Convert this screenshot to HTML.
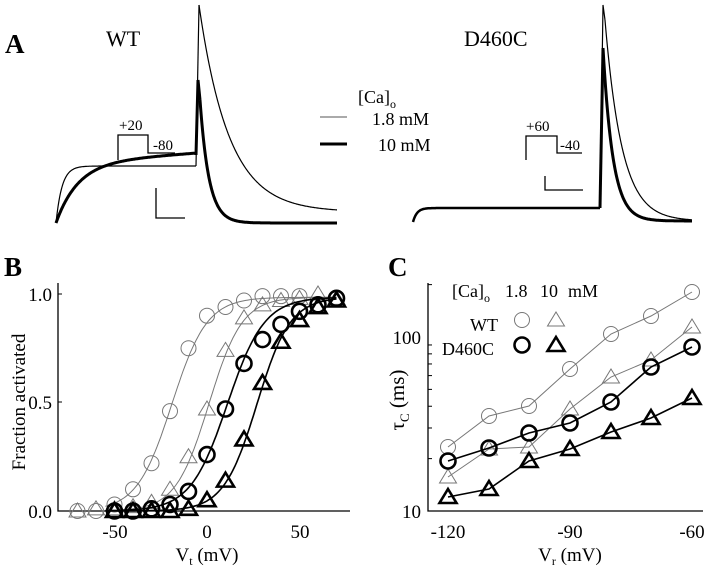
<!DOCTYPE html>
<html><head><meta charset="utf-8"><style>
body{margin:0;background:#fff}
svg{display:block;font-family:"Liberation Serif",serif}
</style></head><body>
<svg id="s" width="720" height="574" viewBox="0 0 720 574" xmlns="http://www.w3.org/2000/svg">
<text x="5" y="53" font-size="27" font-weight="bold">A</text>
<text x="106" y="46" font-size="22">WT</text>
<text x="464" y="46" font-size="22">D460C</text>
<text x="358" y="103" font-size="18">[Ca]<tspan font-size="12" dy="5">o</tspan></text>
<text x="372" y="125" font-size="18">1.8 mM</text>
<text x="378" y="151" font-size="18">10 mM</text>
<line x1="320" y1="117" x2="347" y2="117" stroke="#555" stroke-width="1"/>
<line x1="320" y1="144" x2="347" y2="144" stroke="#000" stroke-width="3"/>
<path d="M118,160V135H148V153H175" fill="none" stroke="#000" stroke-width="1.3"/>
<text x="119" y="130" font-size="15">+20</text>
<text x="153" y="150" font-size="15">-80</text>
<path d="M156,188V218H185" fill="none" stroke="#000" stroke-width="1.3"/>
<path d="M526,160V136H557V153H582" fill="none" stroke="#000" stroke-width="1.3"/>
<text x="526" y="131" font-size="15">+60</text>
<text x="560" y="150" font-size="15">-40</text>
<path d="M545,176V190H583" fill="none" stroke="#000" stroke-width="1.3"/>
<g id="traces" fill="none" stroke="#000"></g>
<text x="4" y="276" font-size="27" font-weight="bold">B</text>
<path d="M58,283V511H350" fill="none" stroke="#000" stroke-width="1.3"/>
<g font-size="19" text-anchor="end">
<text x="52" y="301">1.0</text><text x="52" y="409">0.5</text><text x="52" y="518">0.0</text></g>
<g stroke="#000"><line x1="58" y1="294" x2="62" y2="294"/><line x1="58" y1="402" x2="62" y2="402"/></g>
<g font-size="19" text-anchor="middle">
<text x="115" y="538">-50</text><text x="207" y="538">0</text><text x="300" y="538">50</text>
<text x="207" y="561">V<tspan font-size="12" dy="4">t</tspan><tspan dy="-4"> (mV)</tspan></text></g>
<text transform="translate(25,402) rotate(-90)" font-size="19" text-anchor="middle">Fraction activated</text>
<g id="pb"></g>
<text x="388" y="276" font-size="27" font-weight="bold">C</text>
<path d="M428,283V511H703" fill="none" stroke="#000" stroke-width="1.3"/>
<g font-size="19" text-anchor="end">
<text x="421" y="344">100</text><text x="421" y="518">10</text></g>
<g font-size="19" text-anchor="middle">
<text x="448" y="538">-120</text><text x="570" y="538">-90</text><text x="692" y="538">-60</text>
<text x="570" y="561">V<tspan font-size="12" dy="4">r</tspan><tspan dy="-4"> (mV)</tspan></text></g>
<text transform="translate(404,400) rotate(-90)" font-size="21" text-anchor="middle">τ<tspan font-size="13" dy="5">C</tspan><tspan dy="-5"> (ms)</tspan></text>
<g id="tk" stroke="#000"></g>
<text x="452" y="297" font-size="18">[Ca]<tspan font-size="12" dy="5">o</tspan><tspan dy="-5" x="505">1.8</tspan><tspan x="540">10</tspan><tspan x="568">mM</tspan></text>
<text x="470" y="331" font-size="18">WT</text>
<text x="442" y="355" font-size="18">D460C</text>
<g id="pc"></g>
</svg>
<script>
var NS="http://www.w3.org/2000/svg";
function el(p,t,a){var e=document.createElementNS(NS,t);for(var k in a)e.setAttribute(k,a[k]);document.getElementById(p).appendChild(e);return e;}
function circ(p,x,y,c,w){el(p,"circle",{cx:x,cy:y,r:7.5,fill:"none",stroke:c,"stroke-width":w});}
function tri(p,x,y,c,w){el(p,"path",{d:"M"+x+","+(y-8)+"L"+(x+8.5)+","+(y+6)+"L"+(x-8.5)+","+(y+6)+"Z",fill:"none",stroke:c,"stroke-width":w});}
function pl(f,a,b,c,w){var d="";for(var x=a;x<=b;x+=0.5){d+=(d?"L":"M")+x+","+f(x).toFixed(1);}el("traces","path",{d:d,stroke:c,"stroke-width":w});}
pl(function(x){return 223-57*(1-Math.exp(-(x-56)/6))},56,196,"#000",1.2);
el("traces","path",{d:"M196,166L199,5",stroke:"#000","stroke-width":1.2});
pl(function(x){return 212-207*Math.exp(-(x-199)/30)},199,337,"#000",1.2);
pl(function(x){var t=x-56;return 223-60*(1-Math.exp(-t/22))-10*(t/140)},56,196,"#000",3);
el("traces","path",{d:"M196,155L198,80L200,100",stroke:"#000","stroke-width":3});
pl(function(x){return 223-(223-100)*Math.exp(-(x-200)/9)},200,337,"#000",3);
pl(function(x){var t=x-413;return 222-14*(1-Math.exp(-t/4))},413,600,"#000",2.5);
el("traces","path",{d:"M600,208L603,5L605,20",stroke:"#000","stroke-width":1.2});
pl(function(x){return 221-(221-20)*Math.exp(-(x-605)/17)},605,692,"#000",1.2);
el("traces","path",{d:"M600,208L603,48",stroke:"#000","stroke-width":3});
pl(function(x){return 221-(221-48)*Math.exp(-(x-603)/10)},603,692,"#000",3);
function bx(v){return 207+1.85*v}function by(f){return 511-217*f}
var sets=[[-19,9.5,"#777",1,"c",-70,[0,0,.03,.1,.22,.46,.75,.9,.94,.97,.99,.99,.99]],
[1,9,"#777",1,"t",-70,[0,.01,.01,.02,.04,.1,.25,.47,.74,.89,.95,.97,.98,1.0,.98]],
[11,10,"#000",2.6,"c",-50,[0,0,.01,.03,.09,.26,.47,.68,.79,.86,.92,.95,.98]],
[27,9,"#000",2.6,"t",-50,[0,0,0,0,.01,.05,.14,.33,.59,.78,.88,.94,.97]]];
sets.forEach(function(s){var d="";for(var v=-55;v<=70;v+=1){var f=0.985/(1+Math.exp(-(v-s[0])/s[1]));d+=(d?"L":"M")+bx(v).toFixed(1)+","+by(f).toFixed(1);}
el("pb","path",{d:d,fill:"none",stroke:s[2],"stroke-width":s[3]>2?1.6:1});
s[6].forEach(function(f,i){var v=s[5]+10*i;if(v>70)return;
if(s[4]=="c")circ("pb",bx(v),by(f),s[2],s[3]);else tri("pb",bx(v),by(f),s[2],s[3]);});});
[20,30,40,50,60,70,80,90,200].forEach(function(v){var y=511-174*Math.log10(v/10);el("tk","line",{x1:428,y1:y,x2:432,y2:y});});
var xs=[448,489,529,570,611,651,692];
var C=[[447,416,406,369,334,316,292,"#777",1,"c"],[477,449,447,409,377,360,327,"#777",1,"t"],[461,448,433,423,402,367,347,"#000",2.6,"c"],[497,489,461,449,432,418,398,"#000",2.6,"t"]];
C.forEach(function(s){var d="";for(var i=0;i<7;i++)d+=(i?"L":"M")+xs[i]+","+s[i];
el("pc","path",{d:d,fill:"none",stroke:s[7],"stroke-width":s[8]>2?1.6:1});
for(var i=0;i<7;i++){if(s[9]=="c")circ("pc",xs[i],s[i],s[7],s[8]);else tri("pc",xs[i],s[i],s[7],s[8]);}});
circ("pc",522,320,"#777",1);tri("pc",556,320,"#777",1);circ("pc",522,345,"#000",2.6);tri("pc",556,345,"#000",2.6);
</script>
</body></html>
